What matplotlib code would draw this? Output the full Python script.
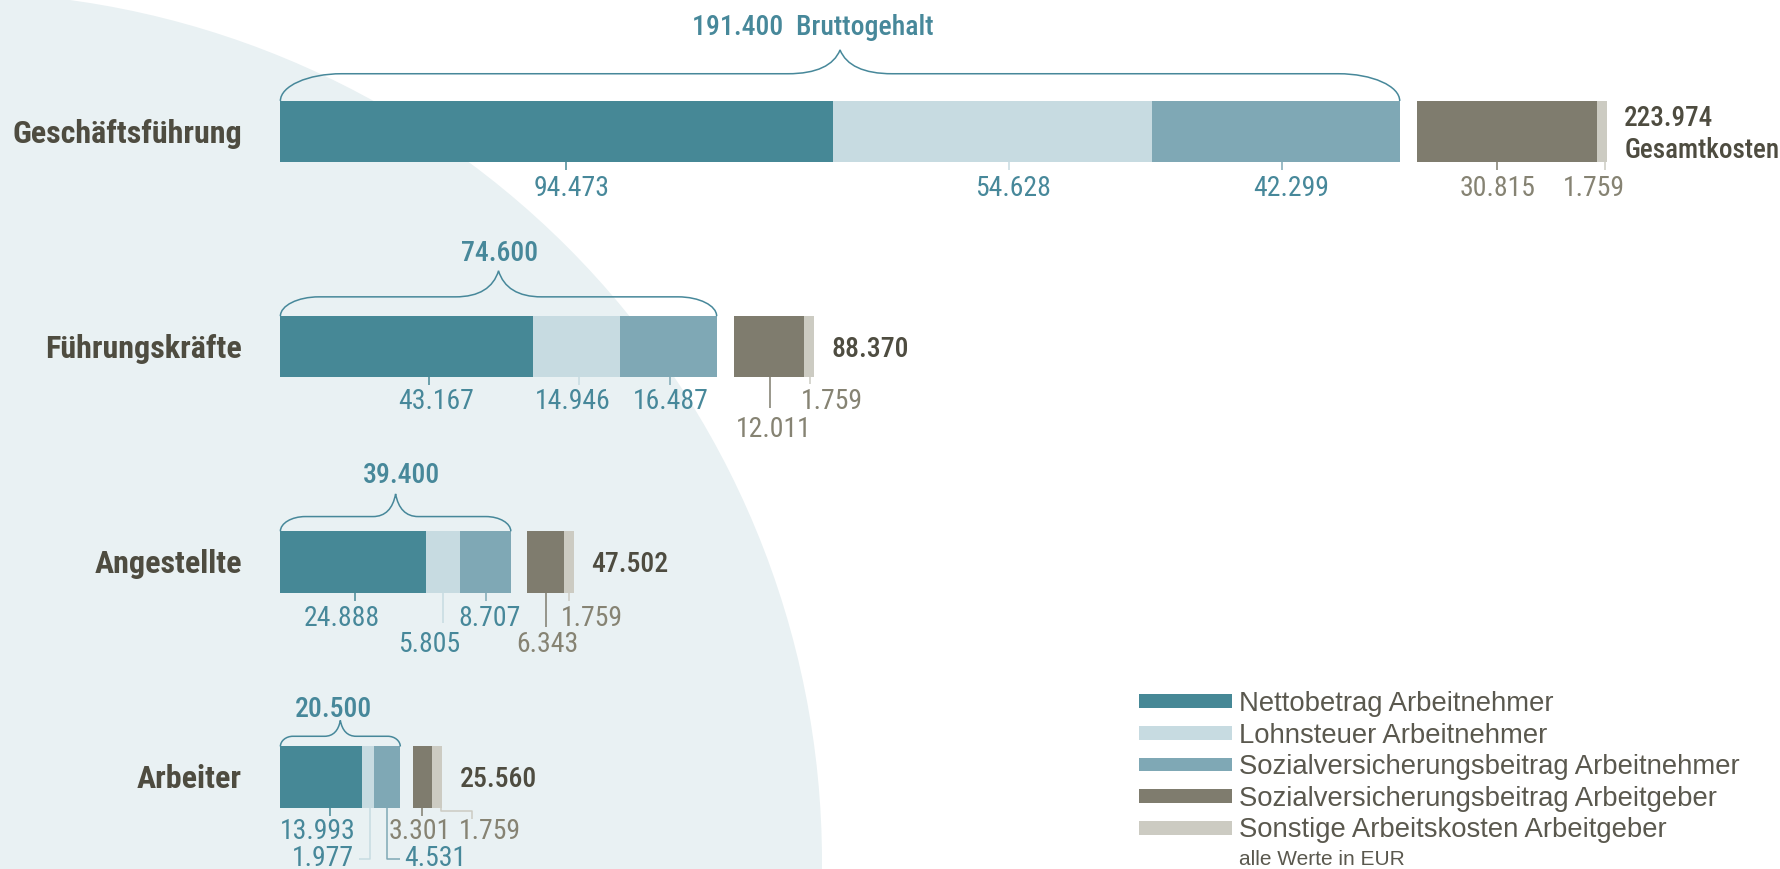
import matplotlib
matplotlib.use("Agg")
import matplotlib.pyplot as plt
from matplotlib.path import Path
from matplotlib.patches import PathPatch, Ellipse, Rectangle
from matplotlib import font_manager

# --- Daten (EUR pro Jahr) ---
categories = ["Geschäftsführung", "Führungskräfte", "Angestellte", "Arbeiter"]
netto = [94473, 43167, 24888, 13993]
lohnsteuer = [54628, 14946, 5805, 1977]
sv_an = [42299, 16487, 8707, 4531]
sv_ag = [30815, 12011, 6343, 3301]
sonstige = [1759, 1759, 1759, 1759]
brutto = [191400, 74600, 39400, 20500]
gesamt = [223974, 88370, 47502, 25560]
series_names = ["Nettobetrag Arbeitnehmer", "Lohnsteuer Arbeitnehmer",
                "Sozialversicherungsbeitrag Arbeitnehmer",
                "Sozialversicherungsbeitrag Arbeitgeber",
                "Sonstige Arbeitskosten Arbeitgeber"]

# --- Stil ---
COLORS = ['#468896', '#c7dbe1', '#7fa8b5', '#7f7c6e', '#cccbc2']
C_CAT = '#4e4c40'
C_TEAL = '#47889a'
C_GRAY = '#868373'
C_LEG = '#5a584e'
C_BG = '#e9f1f3'

fonts = font_manager.fontManager.ttflist
names = {f.name for f in fonts}


def pick(cands, default='DejaVu Sans'):
    for c in cands:
        if c in names:
            return c
    return default


NARROW = pick(['Roboto Condensed', 'Archivo Narrow', 'IBM Plex Sans Condensed', 'Liberation Sans Narrow'])
REGULAR = pick(['Liberation Sans', 'Arimo'])
# mittlere Strichstärke, falls vorhanden
narrow_weights = {f.weight for f in fonts if f.name == NARROW}
MEDIUM = 500 if (500 in narrow_weights or 600 in narrow_weights) else 'bold'
if 600 in narrow_weights and 500 not in narrow_weights:
    MEDIUM = 600

# Referenz-Pixel (1568 breit) -> Datenkoordinaten
REF_W, REF_H = 1568, 766
K = 1780 / REF_W
X0 = 247
EUR_PER_PX = brutto[0] / 986
ROW0, ROW_STEP = 116, 189.67


def px_x(p):
    return p * EUR_PER_PX


def px_y(p):
    return p / ROW_STEP


def half_cap(size):
    # halbe Versalhöhe in Referenz-Pixeln
    return 0.71 * size * 100 / 72 / K / 2


def fmt(v):
    return f"{v:,}".replace(",", ".")


fig = plt.figure(figsize=(17.8, 8.69), dpi=100)
ax = fig.add_axes([0, 0, 1, 1])
ax.set_xlim(-X0 * EUR_PER_PX, (REF_W - X0) * EUR_PER_PX)
ax.set_ylim((REF_H - ROW0) / ROW_STEP, -ROW0 / ROW_STEP)
ax.axis('off')

# Hintergrundkreis
cx, cy, r = -48, 862, 870
ax.add_patch(Ellipse((cx / 1780, 1 - cy / 869), 2 * r / 1780, 2 * r / 869,
                     transform=fig.transFigure, color=C_BG, lw=0, zorder=0))

bar_h = px_y(54)
gaps = [15, 15, 14, 11]

# Leader-Layout je Segment: Linienpunkte (dx, dy), Label dx, Label dy, Ausrichtung
label_layout = [
    [([(8, 0), (8, 7)], 13, 21, 'center'),
     ([(14, 0), (14, 7)], 18, 21, 'center'),
     ([(5, 0), (5, 7)], 13, 21, 'center'),
     ([(-9, 0), (-9, 7)], -8, 21, 'center'),
     ([(3, 0), (3, 7)], -7, 21, 'center')],
    [([(20, 0), (20, 7)], 26, 19, 'center'),
     ([(2, 0), (2, 7)], -3, 19, 'center'),
     ([(1, 0), (1, 7)], 2, 19, 'center'),
     ([(1, 0), (1, 27)], 4, 44, 'center'),
     ([(1, 0), (1, 6)], 20, 19, 'center')],
    [([(2, 0), (2, 7)], -10, 21, 'center'),
     ([(0, 0), (0, 27)], -12, 44, 'center'),
     ([(1, 0), (1, 7)], 4, 21, 'center'),
     ([(1, 0), (1, 30)], 2, 44, 'center'),
     ([(0, 0), (0, 7)], 20, 21, 'center')],
    [([(8, 0), (8, 7)], -3, 18.5, 'center'),
     ([(2, 0), (2, 45), (-7.5, 45)], -12, 43, 'right'),
     ([(0, 0), (0, 45), (11, 45)], 15, 43, 'left'),
     ([(0, 0), (0, 7)], -2, 18.5, 'center'),
     ([(3, 0), (3, 3), (31, 3), (31, 10)], 46, 18.5, 'center')],
]

# Klammer-Stil: dh, dt, Eckradius, Spitzenbreite, Label dx, Label dy (Referenz-Pixel)
brace_style = [(24, 21, 54, 46, -24, -67),
               (17, 23, 34, 38, 1, -57),
               (13, 20, 22, 20, 5, -51),
               (9, 14, 11, 14, -6, -35)]

VAL_SIZE = 20


def brace(x0, x1, ytop, dh, dt, rr, w):
    k = 0.55
    xm = (x0 + x1) / 2
    yh = ytop - dh
    yt = yh - dt
    verts = [(x0, ytop),
             (x0, ytop - k * dh), (x0 + rr * (1 - k), yh), (x0 + rr, yh),
             (xm - w, yh),
             (xm - w * 0.45, yh), (xm - w * 0.12, yh - dt * 0.35), (xm, yt),
             (xm + w * 0.12, yh - dt * 0.35), (xm + w * 0.45, yh), (xm + w, yh),
             (x1 - rr, yh),
             (x1 - rr * (1 - k), yh), (x1, ytop - k * dh), (x1, ytop)]
    codes = [Path.MOVETO] + [Path.CURVE4] * 3 + [Path.LINETO] + [Path.CURVE4] * 6 \
        + [Path.LINETO] + [Path.CURVE4] * 3
    ax.add_patch(PathPatch(Path(verts, codes), fc='none', ec=C_TEAL, lw=1.1,
                           capstyle='butt', zorder=3))


for i, cat in enumerate(categories):
    values = [netto[i], lohnsteuer[i], sv_an[i], sv_ag[i], sonstige[i]]
    lefts = []
    left = 0
    for s, v in enumerate(values):
        if s == 3:
            left += px_x(gaps[i])
        lefts.append(left)
        ax.barh(i, v, left=left, height=bar_h, color=COLORS[s], lw=0, zorder=2)
        left += v
    emp_end = lefts[2] + values[2]
    total_end = left
    ybot = i + bar_h / 2
    ytop = i - bar_h / 2

    # Wertelabels mit Linien
    for s, v in enumerate(values):
        pts, ldx, ldy, ha = label_layout[i][s]
        xc = lefts[s] + v / 2
        ax.plot([xc + px_x(p[0]) for p in pts], [ybot + px_y(p[1]) for p in pts],
                color=COLORS[s], lw=1.1, solid_capstyle='butt', zorder=3)
        ax.text(xc + px_x(ldx), ybot + px_y(ldy + half_cap(VAL_SIZE)), fmt(v),
                ha=ha, va='baseline', fontsize=VAL_SIZE, family=NARROW,
                color=C_TEAL if s < 3 else C_GRAY, zorder=4)

    # Kategorie
    ax.text(px_x(213 - X0), i + px_y(half_cap(23)), cat, ha='right', va='baseline',
            fontsize=23, fontweight='bold', family=NARROW, color=C_CAT)

    # Gesamtkosten
    if i == 0:
        ax.text(total_end + px_x(15), i + px_y(-13.5 + half_cap(19.5)), fmt(gesamt[i]),
                ha='left', va='baseline', fontsize=19.5, fontweight=MEDIUM,
                family=NARROW, color=C_CAT)
        ax.text(total_end + px_x(15), i + px_y(14.5 + half_cap(19.5)), "Gesamtkosten",
                ha='left', va='baseline', fontsize=19.5, fontweight=MEDIUM,
                family=NARROW, color=C_CAT)
    else:
        ax.text(total_end + px_x(15), i + px_y(half_cap(20)), fmt(gesamt[i]),
                ha='left', va='baseline', fontsize=20, fontweight=MEDIUM,
                family=NARROW, color=C_CAT)

    # Klammer Bruttogehalt
    dh, dt, rr, w, tdx, tdy = brace_style[i]
    brace(0, emp_end, ytop, px_y(dh), px_y(dt), px_x(rr), px_x(w))
    label = fmt(brutto[i]) + ("  Bruttogehalt" if i == 0 else "")
    ax.text(emp_end / 2 + px_x(tdx), ytop + px_y(tdy + half_cap(20)), label,
            ha='center', va='baseline', fontsize=20, fontweight=MEDIUM,
            family=NARROW, color=C_TEAL)

# Legende
leg_y0, leg_step = 618, 27.9
for s, name in enumerate(series_names):
    yc = leg_y0 + s * leg_step
    fig.patches.append(Rectangle((1003 / REF_W, 1 - (yc + 6) / REF_H), 82 / REF_W, 12 / REF_H,
                                 transform=fig.transFigure, color=COLORS[s], lw=0))
    fig.text(1091 / REF_W, 1 - (yc + half_cap(19.8)) / REF_H, name, ha='left', va='baseline',
             fontsize=19.8, family=REGULAR, color=C_LEG)
fig.text(1091 / REF_W, 1 - (756 + half_cap(15)) / REF_H, "alle Werte in EUR", ha='left',
         va='baseline', fontsize=15, family=REGULAR, color=C_LEG)

fig.savefig("out.png", dpi=100)
